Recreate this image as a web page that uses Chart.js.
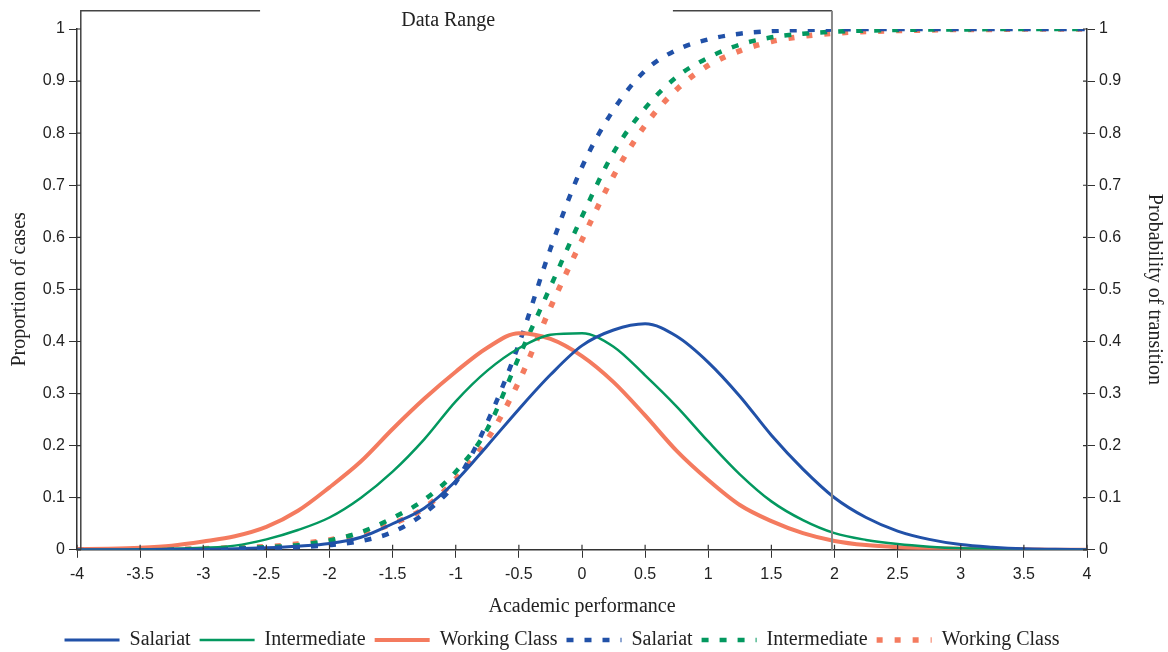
<!DOCTYPE html>
<html>
<head>
<meta charset="utf-8">
<script src="https://cdn.jsdelivr.net/npm/chart.js@4"></script>
<style>
  html, body { margin: 0; padding: 0; background: #fff; }
  #wrap { width: 1168px; height: 652px; }
</style>
</head>
<body>
<div id="wrap"><canvas id="myChart"></canvas></div>
<script>
// academic performance (x values)
const perf = [-4, -3.75, -3.5, -3.25, -3, -2.75, -2.5, -2.25, -2, -1.75, -1.5, -1.25, -1, -0.75, -0.5, -0.25,
  0, 0.25, 0.5, 0.75, 1, 1.25, 1.5, 1.75, 2, 2.25, 2.5, 2.75, 3, 3.25, 3.5, 3.75, 4];

// proportion of cases (left axis)
const salariatCases = [0, 0, 0, 0.001, 0.001, 0.002, 0.004, 0.007, 0.012, 0.024, 0.05, 0.08, 0.132, 0.2, 0.27, 0.336,
  0.392, 0.422, 0.434, 0.41, 0.36, 0.295, 0.22, 0.155, 0.1, 0.062, 0.036, 0.02, 0.01, 0.005, 0.002, 0.001, 0];
const intermediateCases = [0, 0, 0.001, 0.002, 0.004, 0.008, 0.02, 0.038, 0.062, 0.1, 0.15, 0.212, 0.285, 0.344, 0.387, 0.413,
  0.416, 0.39, 0.335, 0.275, 0.208, 0.145, 0.093, 0.057, 0.032, 0.019, 0.011, 0.006, 0.003, 0.002, 0.001, 0, 0];
const workingCases = [0.001, 0.002, 0.004, 0.008, 0.016, 0.026, 0.044, 0.075, 0.12, 0.17, 0.232, 0.29, 0.342, 0.388, 0.416, 0.405,
  0.372, 0.322, 0.258, 0.19, 0.134, 0.086, 0.055, 0.032, 0.017, 0.009, 0.005, 0.003, 0.002, 0.001, 0.001, 0, 0];

// probability of transition (right axis)
const salariatProb = [0, 0, 0, 0.001, 0.001, 0.002, 0.003, 0.005, 0.009, 0.017, 0.034, 0.07, 0.13, 0.245, 0.395, 0.578,
  0.735, 0.845, 0.92, 0.96, 0.98, 0.991, 0.996, 0.998, 0.999, 1, 1, 1, 1, 1, 1, 1, 1];
const intermediateProb = [0, 0, 0.001, 0.001, 0.002, 0.003, 0.005, 0.009, 0.018, 0.034, 0.061, 0.096, 0.15, 0.232, 0.37, 0.505,
  0.64, 0.763, 0.848, 0.908, 0.945, 0.97, 0.984, 0.991, 0.995, 0.997, 0.998, 0.999, 0.999, 1, 1, 1, 1];
const workingProb = [0, 0, 0.001, 0.001, 0.002, 0.004, 0.006, 0.011, 0.019, 0.031, 0.05, 0.08, 0.136, 0.212, 0.323, 0.465,
  0.595, 0.718, 0.815, 0.884, 0.93, 0.958, 0.976, 0.986, 0.992, 0.995, 0.997, 0.998, 0.999, 0.999, 1, 1, 1];

// "Data Range" bracket (in x units) and the gap left for its label
const dataRange = [-3.97, 1.98];
const rangeGap = [-2.55, 0.72];
const rangeTop = 1.035;
const rangeLabelX = -1.06;

const blue = "#2151a8";
const green = "#03985f";
const orange = "#f47b5f";

const toPoints = (vals) => perf.map((x, i) => ({ x: x, y: vals[i] }));

const line = (label, vals, color, width, axis, dash) => ({
  label: label,
  data: toPoints(vals),
  borderColor: color,
  backgroundColor: color,
  borderWidth: width,
  borderDash: dash || [],
  yAxisID: axis,
  pointRadius: 0,
  cubicInterpolationMode: "monotone",
  fill: false,
});

const bracketPlugin = {
  id: "dataRange",
  afterDraw(chart) {
    const ctx = chart.ctx;
    const xs = chart.scales.x;
    const ys = chart.scales.y;
    const l = xs.getPixelForValue(dataRange[0]);
    const r = xs.getPixelForValue(dataRange[1]);
    const g1 = xs.getPixelForValue(rangeGap[0]);
    const g2 = xs.getPixelForValue(rangeGap[1]);
    const top = ys.getPixelForValue(rangeTop);
    const bottom = ys.getPixelForValue(0);
    ctx.save();
    ctx.strokeStyle = "#444";
    ctx.lineWidth = 1.5;
    ctx.beginPath();
    ctx.moveTo(l, bottom); ctx.lineTo(l, top); ctx.lineTo(g1, top);
    ctx.moveTo(g2, top); ctx.lineTo(r, top);
    ctx.stroke();
    ctx.strokeStyle = "#888";
    ctx.lineWidth = 2;
    ctx.beginPath();
    ctx.moveTo(r, top); ctx.lineTo(r, bottom);
    ctx.stroke();
    ctx.fillStyle = "#222";
    ctx.font = "20px 'Liberation Serif'";
    ctx.textAlign = "center";
    ctx.textBaseline = "middle";
    ctx.fillText("Data Range", xs.getPixelForValue(rangeLabelX), top + 10);
    ctx.restore();
  },
};

// ticks in the reference cross the axis lines: draw the inner half
const innerTicks = {
  id: "innerTicks",
  afterDraw(chart) {
    const ctx = chart.ctx;
    const a = chart.chartArea;
    ctx.save();
    ctx.strokeStyle = "#333";
    ctx.lineWidth = 1.2;
    ctx.beginPath();
    chart.scales.x.ticks.forEach((t) => {
      const px = chart.scales.x.getPixelForValue(t.value);
      ctx.moveTo(px, a.bottom); ctx.lineTo(px, a.bottom - 5);
    });
    chart.scales.y.ticks.forEach((t) => {
      const py = chart.scales.y.getPixelForValue(t.value);
      ctx.moveTo(a.left, py); ctx.lineTo(a.left + 4, py);
      ctx.moveTo(a.right, py); ctx.lineTo(a.right - 4, py);
    });
    ctx.stroke();
    ctx.restore();
  },
};

// the reference legend sits a little left of centre
const legendShift = {
  id: "legendShift",
  afterLayout(chart) {
    chart.legend.left -= 22;
    chart.legend.right -= 22;
  },
};

const tickFont = { family: "'Liberation Sans'", size: 16 };
const titleFont = { family: "'Liberation Serif'", size: 20 };

const ctx = document.getElementById("myChart").getContext("2d");
const chart = new Chart(ctx, {
  type: "line",
  data: {
    datasets: [
      line("Salariat", salariatCases, blue, 3, "y"),
      line("Intermediate", intermediateCases, green, 2.5, "y"),
      line("Working Class", workingCases, orange, 4, "y"),
      line("Salariat", salariatProb, blue, 4.5, "y2", [7, 11]),
      line("Intermediate", intermediateProb, green, 4.5, "y2", [7, 11]),
      line("Working Class", workingProb, orange, 5.5, "y2", [6, 12]),
    ],
  },
  options: {
    responsive: true,
    maintainAspectRatio: false,
    animation: false,
    layout: { padding: { top: 29, left: 0, right: 0, bottom: -8 } },
    plugins: {
      legend: {
        position: "bottom",
        labels: {
          usePointStyle: true,
          pointStyle: "line",
          pointStyleWidth: 55,
          color: "#222",
          font: titleFont,
          padding: 9,
          // keep each dataset's dash pattern in its legend line
          generateLabels: (chart) => {
            const items = Chart.defaults.plugins.legend.labels.generateLabels(chart);
            items.forEach((item) => {
              const ds = chart.data.datasets[item.datasetIndex];
              item.lineDash = ds.borderDash;
              item.lineWidth = ds.borderWidth;
              item.strokeStyle = ds.borderColor;
            });
            return items;
          },
        },
      },
      tooltip: { enabled: false },
    },
    scales: {
      x: {
        type: "linear",
        min: -4,
        max: 4,
        ticks: { stepSize: 0.5, color: "#222", font: tickFont, padding: 7, maxRotation: 0,
          callback: (v) => String(v) },
        grid: { drawOnChartArea: false, color: "#333", tickLength: 8 },
        border: { color: "#333", width: 1.5 },
        title: { display: true, text: "Academic performance", color: "#222", font: titleFont, padding: { top: 4, bottom: 2 } },
      },
      y: {
        position: "left",
        min: 0,
        max: 1,
        ticks: { stepSize: 0.1, color: "#222", font: tickFont, padding: 4, callback: (v) => String(+v.toFixed(1)) },
        grid: { drawOnChartArea: false, color: "#333", tickLength: 8 },
        border: { color: "#333", width: 1.5 },
        title: { display: true, text: "Proportion of cases", color: "#222", font: titleFont, padding: { top: 8, bottom: 0 } },
        afterFit: (scale) => { scale.width = 77; },
      },
      y2: {
        position: "right",
        min: 0,
        max: 1,
        ticks: { stepSize: 0.1, color: "#222", font: tickFont, padding: 4, callback: (v) => String(+v.toFixed(1)) },
        grid: { drawOnChartArea: false, color: "#333", tickLength: 8 },
        border: { color: "#333", width: 1.5 },
        title: { display: true, text: "Probability of transition", color: "#222", font: titleFont, padding: 2 },
        afterFit: (scale) => { scale.width = 81; },
      },
    },
  },
  plugins: [bracketPlugin, innerTicks, legendShift],
});
</script>
</body>
</html>
